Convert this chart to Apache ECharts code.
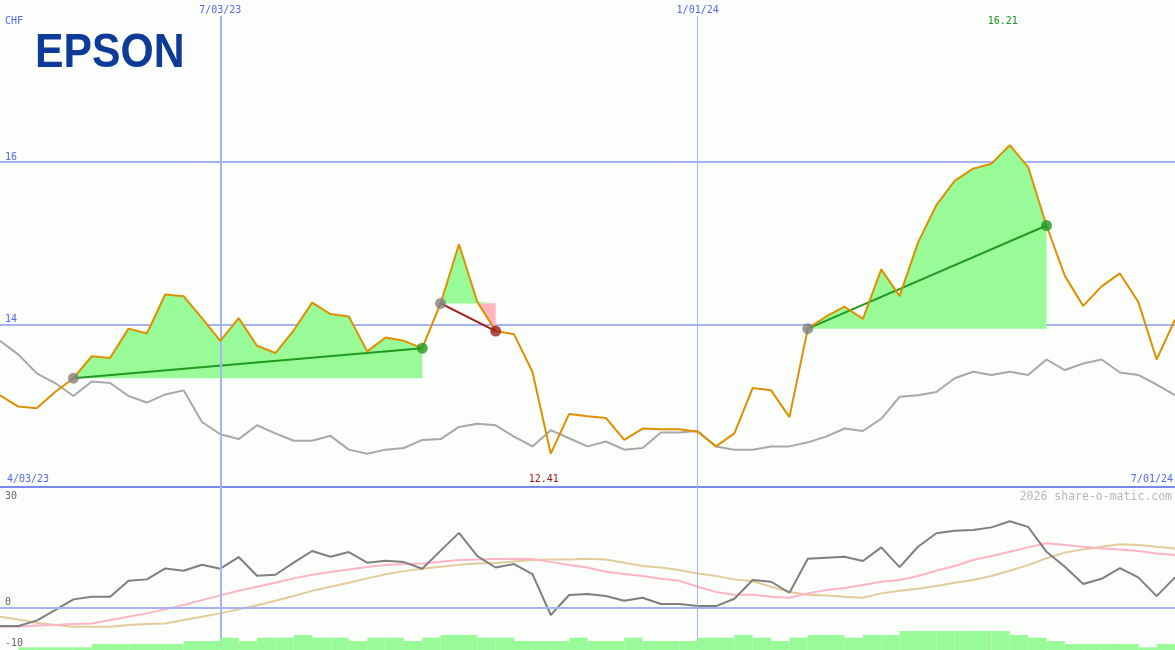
<!DOCTYPE html>
<html><head><meta charset="utf-8">
<script src="https://cdn.jsdelivr.net/npm/echarts/dist/echarts.min.js"></script>
<style>html,body{margin:0;padding:0;background:#fbfefb}#c{width:1175px;height:650px}</style>
</head><body><div id="c"></div><script>
// ---------- DATA ----------
const dates = ['4/10/23','4/17/23','4/24/23','5/01/23','5/08/23','5/15/23','5/22/23','5/29/23','6/05/23','6/12/23','6/19/23','6/26/23','7/03/23',
'7/10/23','7/17/23','7/24/23','7/31/23','8/07/23','8/14/23','8/21/23','8/28/23','9/04/23','9/11/23','9/18/23','9/25/23','10/02/23','10/09/23','10/16/23','10/23/23','10/30/23','11/06/23','11/13/23','11/20/23','11/27/23','12/04/23','12/11/23','12/18/23','12/25/23','1/01/24',
'1/08/24','1/15/24','1/22/24','1/29/24','2/05/24','2/12/24','2/19/24','2/26/24','3/04/24','3/11/24','3/18/24','3/25/24','4/01/24','4/08/24','4/15/24','4/22/24','4/29/24','5/06/24','5/13/24','5/20/24','5/27/24','6/03/24','6/10/24','6/17/24','6/24/24','7/01/24'];
const price = [13.13,12.99,12.97,13.17,13.34,13.61,13.59,13.95,13.89,14.37,14.35,14.08,13.80,14.08,13.74,13.65,13.93,14.27,14.13,14.10,
13.67,13.84,13.80,13.71,14.26,14.99,14.28,13.92,13.88,13.42,12.41,12.90,12.87,12.85,12.58,12.72,12.71,12.71,12.68,12.50,
12.66,13.22,13.19,12.86,13.95,14.10,14.22,14.07,14.68,14.35,15.01,15.47,15.77,15.92,15.98,16.21,15.94,15.22,14.60,14.23,
14.47,14.63,14.28,13.57,14.06];
const bench = [13.80,13.63,13.40,13.28,13.12,13.30,13.28,13.12,13.04,13.14,13.19,12.80,12.65,12.59,12.76,12.66,12.57,12.57,12.63,12.46,
12.41,12.46,12.48,12.58,12.59,12.74,12.78,12.76,12.62,12.50,12.70,12.60,12.50,12.56,12.46,12.48,12.67,12.67,12.69,12.50,
12.46,12.46,12.50,12.50,12.55,12.62,12.72,12.69,12.84,13.11,13.13,13.17,13.34,13.42,13.38,13.42,13.38,13.57,13.44,13.52,
13.57,13.41,13.38,13.26,13.13];
const momentum = [-4.55,-4.55,-3.2,-0.57,2.08,2.73,2.73,6.7,7.05,9.78,9.2,10.7,9.7,12.6,7.95,8.2,11.2,14.1,12.67,13.84,
11.2,11.7,11.35,9.7,14.2,18.6,12.85,10.0,10.86,8.37,-1.8,3.16,3.4,2.9,1.74,2.48,0.92,0.92,0.42,0.42,
2.24,6.88,6.46,3.73,12.17,12.42,12.67,11.6,15.0,10.1,15.16,18.5,19.13,19.3,19.97,21.5,20.1,13.9,10.2,5.9,
7.2,9.86,7.55,2.9,7.55];
const momFast = [-4.7,-4.7,-4.4,-4.3,-4.05,-3.9,-3.06,-2.23,-1.4,-0.4,0.67,1.9,3.07,4.22,5.2,6.2,7.3,8.2,8.87,9.5,
10.1,10.6,10.86,11.0,11.4,11.85,12.0,12.1,12.17,12.1,11.4,10.6,10.0,8.95,8.4,7.9,7.2,6.7,5.2,3.9,
3.24,3.24,2.73,2.5,3.57,4.4,4.9,5.64,6.46,6.88,7.9,9.2,10.36,11.85,12.85,13.9,15.0,16.0,15.58,15.16,
14.75,14.5,14.09,13.5,13.1];
const momSlow = [-2.23,-2.9,-3.7,-4.3,-4.7,-4.7,-4.7,-4.3,-4.05,-3.9,-3.06,-2.23,-1.4,-0.4,0.6,1.74,2.9,4.2,5.2,6.2,
7.3,8.3,9.1,9.7,10.2,10.7,11.0,11.1,11.5,11.85,12.0,12.0,12.17,12.0,11.2,10.4,10.0,9.37,8.5,7.9,
7.05,6.6,5.2,3.9,3.24,3.07,2.73,2.5,3.57,4.2,4.7,5.4,6.2,6.9,7.9,9.2,10.6,12.3,13.7,14.5,
15.16,15.8,15.6,15.16,14.75];
const volDates = ['4/17/23','4/24/23','5/01/23','5/08/23','5/15/23','5/22/23','5/29/23','6/05/23','6/12/23','6/19/23','6/26/23','7/03/23',
'7/10/23','7/17/23','7/24/23','7/31/23','8/07/23','8/14/23','8/21/23','8/28/23','9/04/23','9/11/23','9/18/23','9/25/23','10/02/23','10/09/23','10/16/23','10/23/23','10/30/23','11/06/23','11/13/23','11/20/23','11/27/23','12/04/23','12/11/23','12/18/23','12/25/23','1/01/24',
'1/08/24','1/15/24','1/22/24','1/29/24','2/05/24','2/12/24','2/19/24','2/26/24','3/04/24','3/11/24','3/18/24','3/25/24','4/01/24','4/08/24','4/15/24','4/22/24','4/29/24','5/06/24','5/13/24','5/20/24','5/27/24','6/03/24','6/10/24','6/17/24','6/24/24','7/01/24'];
const volume = ['-',27,27,27,27,60,60,60,60,60,90,90,123,90,123,123,150,123,123,90,123,123,90,123,150,150,123,123,90,90,90,123,
90,90,123,90,90,90,123,123,150,123,90,123,150,150,123,150,150,190,190,190,190,190,190,150,123,90,60,60,60,60,27,60];
const markDates = ['7/03/23','1/01/24'];
const rangeLabels = ['4/03/23','7/01/24'];
const oscLabels = [30, 0, -10];
const unitLabel = 'CHF';
const company = 'EPSON';
const credit = '2026 share-o-matic.com';
const signals = [{start:4,end:23,dir:'up'},{start:24,end:27,dir:'down'},{start:44,end:57,dir:'up'}];

// ---------- CHART ----------
const chart = echarts.init(document.getElementById('c'));
const BLUE = '#5468ee', GRIDC = '#a6b3f2', MONO = 'DejaVu Sans Mono';
const GREEN = '#229922', RED = '#a01c1c';
const nulls = dates.map(() => '-');
const series = [];

// vertical date marks in price panel
series.push({type:'line', xAxisIndex:0, yAxisIndex:0, data:nulls, symbol:'none', silent:true, z:1,
  markLine:{silent:true, symbol:['none','none'], label:{show:false}, animation:false,
    lineStyle:{color:GRIDC, type:'solid'},
    data: markDates.map((d,k) => ({xAxis:d, lineStyle:{color:GRIDC, type:'solid', width:k===0?2:1}}))}});

// signal fills
signals.forEach(s => {
  const base = price[s.start];
  const up = dates.map((d,i) => i>=s.start && i<=s.end ? Math.max(price[i], base) : '-');
  const dn = dates.map((d,i) => i>=s.start && i<=s.end ? Math.min(price[i], base) : '-');
  series.push({type:'line', xAxisIndex:0, yAxisIndex:0, data:up, symbol:'none', silent:true, z:2,
    lineStyle:{width:0, opacity:0}, areaStyle:{color:'#98fb98', opacity:1, origin:base}});
  series.push({type:'line', xAxisIndex:0, yAxisIndex:0, data:dn, symbol:'none', silent:true, z:2,
    lineStyle:{width:0, opacity:0}, areaStyle:{color:'#ffb6c1', opacity:1, origin:base}});
});

// benchmark
series.push({type:'line', xAxisIndex:0, yAxisIndex:0, data:bench, symbol:'none', z:3,
  lineStyle:{color:'#a8a8a8', width:2}});

// trend lines
signals.forEach(s => {
  series.push({type:'line', xAxisIndex:0, yAxisIndex:0, connectNulls:true, symbol:'none', z:4,
    data: dates.map((d,i) => (i===s.start || i===s.end) ? price[i] : '-'),
    lineStyle:{color: s.dir==='up' ? GREEN : RED, width:2}});
});

// price
series.push({type:'line', xAxisIndex:0, yAxisIndex:0, data:price, symbol:'none', z:5,
  lineStyle:{color:'#dd9000', width:2}});

// dots
const dots = [];
signals.forEach(s => {
  dots.push({value:[s.start, price[s.start]], itemStyle:{color:'#808080'}});
  dots.push({value:[s.end, price[s.end]], itemStyle:{color: s.dir==='up' ? GREEN : RED}});
});
series.push({type:'scatter', xAxisIndex:0, yAxisIndex:0, data:dots, symbolSize:11, z:6});

// oscillator panel
series.push({type:'line', xAxisIndex:2, yAxisIndex:1, data:nulls, symbol:'none', silent:true, z:1,
  markLine:{silent:true, symbol:['none','none'], label:{show:false}, animation:false,
    data: [{yAxis:0, lineStyle:{color:GRIDC, type:'solid', width:2}}].concat(
      markDates.map((d,k) => ({xAxis:d, lineStyle:{color:GRIDC, type:'solid', width:k===0?2:1}})))}});
series.push({type:'line', xAxisIndex:2, yAxisIndex:1, data:momSlow, symbol:'none', z:3, lineStyle:{color:'#e4cb9c', width:2}});
series.push({type:'line', xAxisIndex:2, yAxisIndex:1, data:momFast, symbol:'none', z:3, lineStyle:{color:'#ffb3c6', width:2}});
series.push({type:'line', xAxisIndex:2, yAxisIndex:1, data:momentum, symbol:'none', z:4, lineStyle:{color:'#7f7f7f', width:2}});

// volume
series.push({type:'bar', xAxisIndex:3, yAxisIndex:3, data:volume, barWidth:'100%', z:5, itemStyle:{color:'#98fb98'}});

const gridBase = {left:0, right:0, containLabel:false, outerBoundsMode:'none'};
const option = {
  animation:false,
  backgroundColor:'#fbfefb',
  grid:[
    Object.assign({top:16, bottom:163}, gridBase),
    Object.assign({top:487, bottom:2}, gridBase),
    Object.assign({top:600, bottom:0}, gridBase)
  ],
  xAxis:[
    {gridIndex:0, type:'category', data:dates, boundaryGap:false, position:'top',
      axisLine:{show:false, onZero:false}, axisTick:{show:false}, splitLine:{show:false},
      axisLabel:{interval:(i,v) => markDates.includes(v), color:BLUE, fontFamily:MONO, fontSize:10, margin:1}},
    {gridIndex:0, type:'category', data:dates, boundaryGap:false, position:'bottom',
      axisLine:{show:true, onZero:false, lineStyle:{color:'#7a89ee', width:2}}, axisTick:{show:false},
      axisLabel:{show:false}, splitLine:{show:false}},
    {gridIndex:1, type:'category', data:dates, boundaryGap:false, show:false},
    {gridIndex:2, type:'category', data:volDates, boundaryGap:true, show:false}
  ],
  yAxis:[
    {gridIndex:0, type:'value', min:12, max:17.8, interval:2,
      axisLine:{show:false}, axisTick:{show:false},
      axisLabel:{inside:true, showMinLabel:false, showMaxLabel:false, verticalAlign:'bottom', margin:5,
        color:BLUE, fontFamily:MONO, fontSize:10},
      splitLine:{show:true, showMinLine:false, showMaxLine:false, lineStyle:{color:GRIDC, width:2}}},
    {gridIndex:1, type:'value', min:-10, max:30, interval:10,
      axisLine:{show:false}, axisTick:{show:false}, splitLine:{show:false},
      axisLabel:{inside:true, verticalAlign:'bottom', margin:5, color:'#666666', fontFamily:MONO, fontSize:10,
        formatter: v => (oscLabels.includes(v) && v !== 30) ? String(v) : ''}},
    {gridIndex:1, type:'value', position:'left', min:-10, max:30, interval:10,
      axisLine:{show:false}, axisTick:{show:false}, splitLine:{show:false},
      axisLabel:{inside:true, verticalAlign:'top', padding:[4,0,0,0], margin:5, color:'#666666', fontFamily:MONO, fontSize:10,
        formatter: v => (v === 30 && oscLabels.includes(v)) ? String(v) : ''}},
    {gridIndex:2, type:'value', min:0, max:500, show:false}
  ],
  series: series
};
chart.setOption(option);

// value labels placed via the chart's own scales
const maxI = price.indexOf(Math.max(...price));
const minI = price.indexOf(Math.min(...price));
const xMax = chart.convertToPixel({xAxisIndex:0}, dates[maxI]);
const xMin = chart.convertToPixel({xAxisIndex:0}, dates[minI]);
const ySep = chart.convertToPixel({yAxisIndex:0}, 12);
const txt = (x, y, text, fill, font, align, extra) => Object.assign({type:'text', x:x, y:y, silent:true, z:100,
  style:{text:text, fill:fill, font:font, align:align, textAlign:align, verticalAlign:'middle', textVerticalAlign:'middle'}}, extra || {});
const f10 = '10px "DejaVu Sans Mono"';
chart.setOption({graphic:[
  txt(5, 21, unitLabel, BLUE, f10, 'left'),
  txt(35, 54, company, '#0d3b97', 'bold 48px "Liberation Sans"', 'left', {scaleX:0.89}),
  txt(xMax - 7, 21, price[maxI].toFixed(2), '#1f8f1f', f10, 'center'),
  txt(xMin - 7, ySep - 8, price[minI].toFixed(2), '#a01818', f10, 'center'),
  txt(7, ySep - 8, rangeLabels[0], BLUE, f10, 'left'),
  txt(1173, ySep - 8, rangeLabels[1], BLUE, f10, 'right'),
  txt(1172, 497, credit, '#b8b8b8', '11.5px "DejaVu Sans Mono"', 'right')
]});
</script></body></html>
